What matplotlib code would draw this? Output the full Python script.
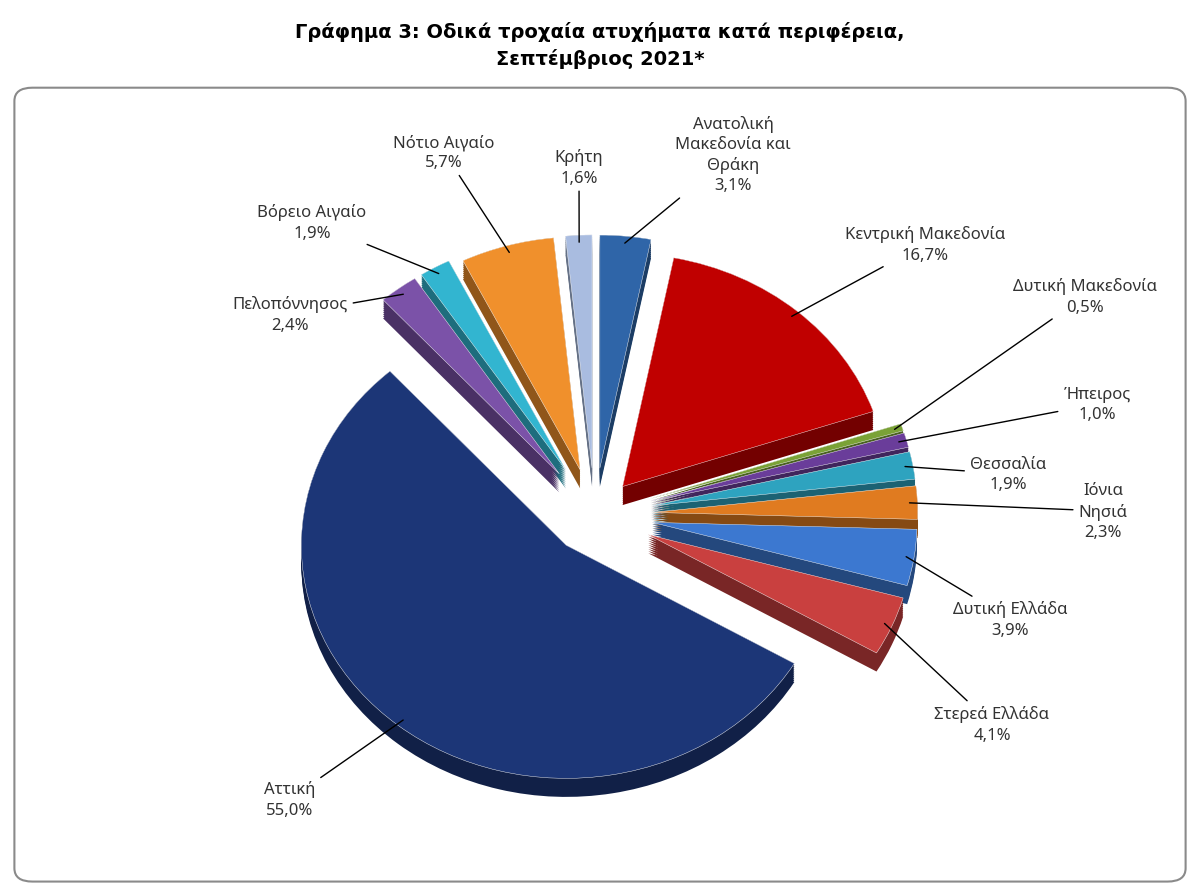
import numpy as np
import matplotlib.pyplot as plt
from matplotlib.patches import FancyBboxPatch, Wedge
from matplotlib.transforms import Affine2D
import matplotlib.colors as mc

plt.rcParams['font.family'] = ['Noto Sans', 'DejaVu Sans']

labels = ["Ανατολική\nΜακεδονία και\nΘράκη", "Κεντρική Μακεδονία", "Δυτική Μακεδονία", "Ήπειρος",
          "Θεσσαλία", "Ιόνια\nΝησιά", "Δυτική Ελλάδα", "Στερεά Ελλάδα", "Αττική",
          "Πελοπόννησος", "Βόρειο Αιγαίο", "Νότιο Αιγαίο", "Κρήτη"]
values = [3.1, 16.7, 0.5, 1.0, 1.9, 2.3, 3.9, 4.1, 55.0, 2.4, 1.9, 5.7, 1.6]
colors = ["#2F65A8", "#C00000", "#7AA236", "#6A3D9A", "#2EA3BF", "#E07B20", "#3C78D0",
          "#C9403F", "#1C3677", "#7B52A8", "#32B5D0", "#F0902C", "#A9BCE0"]
explode = [0.2, 0.16, 0.22, 0.22, 0.22, 0.22, 0.22, 0.22, 0.17, 0.22, 0.22, 0.2, 0.2]
# label text centres (figure pixels from top-left), layout only
label_pos = [(733, 155), (925, 245), (1085, 297), (1097, 405), (1008, 475), (1103, 512),
             (1010, 620), (992, 725), (290, 800), (290, 315), (312, 223), (444, 153), (579, 168)]

W, H = 1200, 887
fig = plt.figure(figsize=(12, 8.87), dpi=100)
fig.patches.append(FancyBboxPatch((0.012, 0.005), 0.976, 0.895, boxstyle="round,pad=0,rounding_size=0.015",
                                  transform=fig.transFigure, fc="white", ec="#8a8a8a", lw=1.5, zorder=-5))
fig.text(0.5, 0.975, "Γράφημα 3: Οδικά τροχαία ατυχήματα κατά περιφέρεια,\nΣεπτέμβριος 2021*",
         ha="center", va="top", fontsize=14, fontweight="bold", family="DejaVu Sans", linespacing=1.4)

ax = fig.add_axes([0.03, 0.02, 0.94, 0.87])
ax.patch.set_visible(False)
ax.set_xlim(-2.13, 2.13)
ax.set_ylim(-1.6, 1.313)
ax.axis("off")

sy = 0.88
depth = 0.07
cx, cy = -0.02, -0.265 / sy
tot = sum(values)
ang = 90.0
geo = []
for v, e in zip(values, explode):
    th1 = ang - v / tot * 360
    mid = np.radians((ang + th1) / 2)
    geo.append((th1, ang, mid, e))
    ang = th1

tr = Affine2D().scale(1, sy) + ax.transData
for k in np.linspace(depth, 0, 10):
    for (t1, t2, mid, e), c in zip(geo, colors):
        dark = np.array(mc.to_rgb(c)) * 0.6
        x0 = cx + e * np.cos(mid); y0 = cy + e * np.sin(mid) - k / sy
        ax.add_patch(Wedge((x0, y0), 1.0, t1, t2, fc=dark, ec="none", transform=tr))
for (t1, t2, mid, e), c in zip(geo, colors):
    x0 = cx + e * np.cos(mid); y0 = cy + e * np.sin(mid)
    ax.add_patch(Wedge((x0, y0), 1.0, t1, t2, fc=c, ec="white", lw=0.3, transform=tr))

for (t1, t2, mid, e), lab, v, (px, py) in zip(geo, labels, values, label_pos):
    r_edge = 0.97 + e
    ex, ey = cx + r_edge * np.cos(mid), (cy + r_edge * np.sin(mid)) * sy
    txt = f"{lab}\n{v:.1f}%".replace(".", ",")
    ax.annotate(txt, xy=(ex, ey), xytext=(px, H - py), textcoords="figure pixels",
                ha="center", va="center", fontsize=12, color="#333333", linespacing=1.35,
                arrowprops=dict(arrowstyle="-", color="black", lw=1, shrinkA=2, shrinkB=0))
fig.savefig("out.png")
